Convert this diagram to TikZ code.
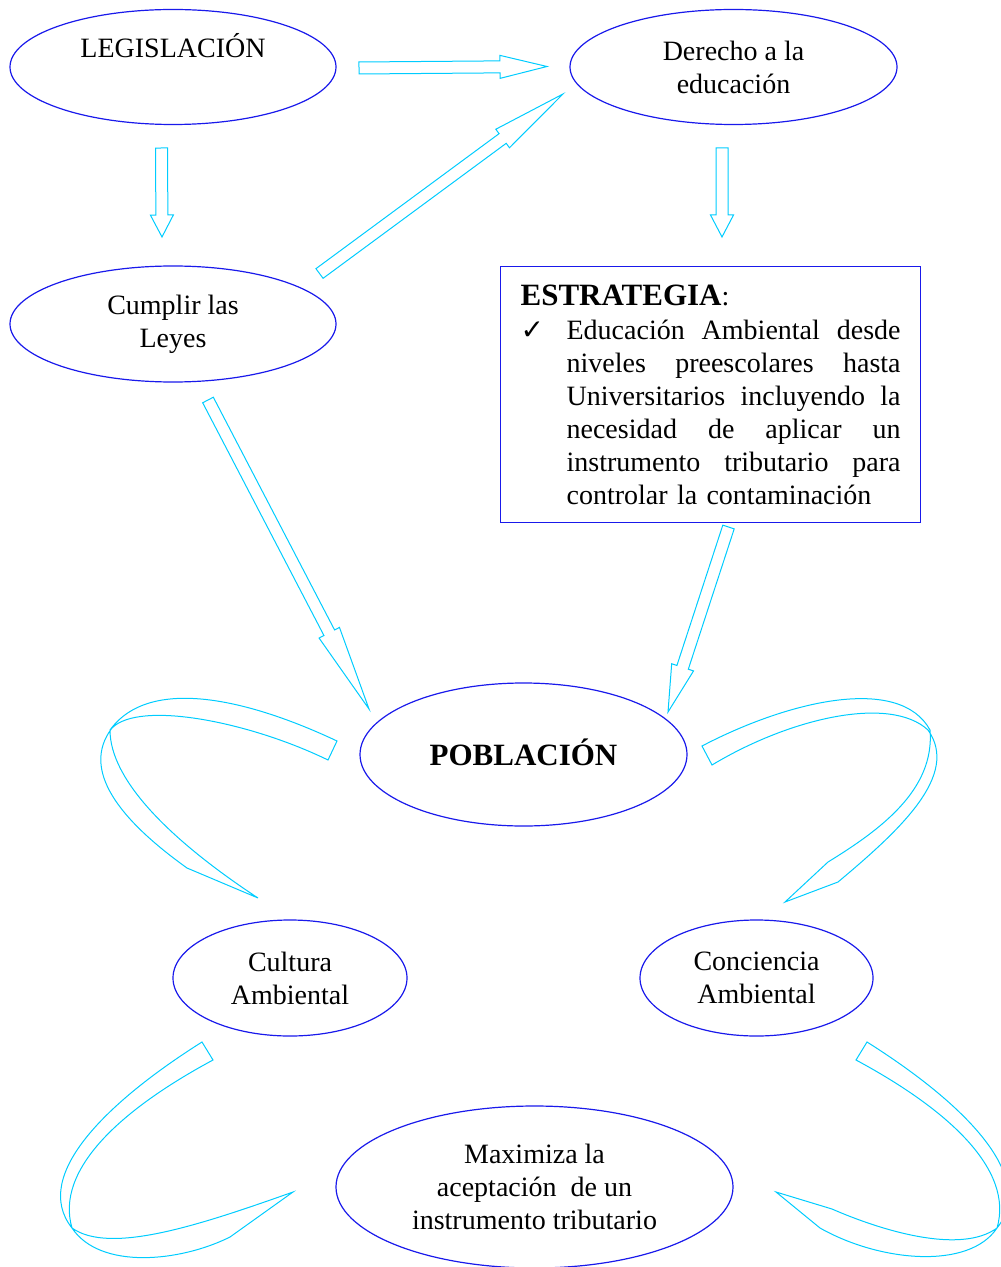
\documentclass[tikz,border=0pt]{standalone}
\usepackage{fontspec}
\setmainfont{Liberation Serif}
\newfontfamily\checkfont{DejaVu Sans}
\usepackage{tikz}
\usetikzlibrary{shapes.geometric,calc}

\definecolor{ovalblue}{RGB}{25,25,235}
\definecolor{arrowcyan}{RGB}{0,204,255}

\newcommand\boldtitle{\fontsize{15.5}{16.5}\selectfont\bfseries}
% one justified line of the strategy list
\newcommand\listline[1]{\leavevmode\hspace*{23pt}\hbox to 167pt{#1}}

% hollow block arrow: tail, tip, head length
\newcommand\hollowarrow[3]{%
  \coordinate (ha-s) at (#1);
  \coordinate (ha-e) at (#2);
  \coordinate (ha-b) at ($(ha-e)!#3!(ha-s)$);
  \draw[blockarrow] ($(ha-s)!3pt!90:(ha-e)$) -- ($(ha-b)!3pt!-90:(ha-s)$)
    -- ($(ha-b)!5.75pt!-90:(ha-s)$) -- (ha-e)
    -- ($(ha-b)!5.75pt!90:(ha-s)$) -- ($(ha-b)!3pt!90:(ha-s)$)
    -- ($(ha-s)!3pt!-90:(ha-e)$) -- cycle;
}

\begin{document}
\begin{tikzpicture}
        [x=0.5pt,y=-0.5pt,
         oval/.style={ellipse,draw=ovalblue,line width=0.6pt,inner sep=0pt,align=center,
           font=\fontsize{14}{16.5}\selectfont},
         stratbox/.style={draw=ovalblue,line width=0.6pt,text width=190pt,inner xsep=10pt,
           inner ysep=0pt,minimum height=128pt,font=\fontsize{14}{16.5}\selectfont},
         blockarrow/.style={draw=arrowcyan,line width=0.5pt,line join=miter}]
        \useasboundingbox (0,0) rectangle (1000,1267);

        \node[oval,minimum width=163pt,minimum height=57.5pt] (legislacion) at (173,67) {LEGISLACIÓN\\\strut};
        \node[oval,minimum width=163.5pt,minimum height=57.5pt] (derecho) at (733.5,67) {Derecho a la\\educación};
        \node[oval,minimum width=163pt,minimum height=58pt] (cumplir) at (173,324) {Cumplir las\\Leyes};
        \node[oval,minimum width=163.5pt,minimum height=71.5pt,text height=11pt,text depth=0pt]
          (poblacion) at (523.5,754.5) {\boldtitle POBLACIÓN};
        \node[oval,minimum width=117pt,minimum height=58pt] (cultura) at (290,978) {Cultura\\Ambiental};
        \node[oval,minimum width=116.5pt,minimum height=58pt] (conciencia) at (756.5,978) {Conciencia\\Ambiental};
        \node[oval,minimum width=198.5pt,minimum height=81pt] (maximiza) at (534.5,1187)
          {Maximiza la\\aceptación\ \ de un\\instrumento tributario};

        \node[stratbox,anchor=north west] (estrategia) at (500,266) {%
          {\boldtitle ESTRATEGIA}:\\[0.5pt]
          \leavevmode\hbox to 23pt{\checkfont\fontsize{14}{14}\selectfont ✓\hfil}\hbox to 167pt{Educación\hfill Ambiental\hfill desde}\\
          \listline{niveles\hfill preescolares\hfill hasta}\\
          \listline{Universitarios\hfill incluyendo\hfill la}\\
          \listline{necesidad\hfill de\hfill aplicar\hfill un}\\
          \listline{instrumento\hfill tributario\hfill para}\\
          \hspace*{23pt}controlar la contaminación};

        % ends of the straight arrows
        \coordinate (leg-r) at (359,68);    \coordinate (der-l) at (547,66.5);
        \coordinate (leg-d) at (161.5,148); \coordinate (cum-u) at (162,237);
        \coordinate (der-d) at (722,148);   \coordinate (est-u) at (722,237);
        \coordinate (cum-r) at (319.5,273.5); \coordinate (der-b) at (563,94);
        \coordinate (cum-d) at (208,400);   \coordinate (pob-l) at (369,709);
        \coordinate (est-d) at (728.5,527); \coordinate (pob-r) at (668,712);

        \foreach \from/\to/\head in {leg-r/der-l/23.5pt,leg-d/cum-u/11pt,der-d/est-u/11pt,
            cum-r/der-b/37.5pt,cum-d/pob-l/43pt,est-d/pob-r/23.5pt}
          \hollowarrow{\from}{\to}{\head};

        % curved arrows round the lower ovals
        \draw[blockarrow] (337,741) .. controls (250,700) and (150,675) .. (110,730)
          .. controls (110,780) and (170,840) .. (258,898) -- (187,868)
          .. controls (120,820) and (80,770) .. (112,728)
          .. controls (140,700) and (250,722) .. (328,760) -- cycle;
        \draw[blockarrow] (702,746) .. controls (790,700) and (900,675) .. (930,730)
          .. controls (935,790) and (880,830) .. (828,862) -- (785,902) -- (838,882)
          .. controls (900,830) and (960,775) .. (928,730)
          .. controls (890,695) and (790,718) .. (712,765) -- cycle;
        \draw[blockarrow] (202,1042) .. controls (110,1100) and (30,1175) .. (72,1228)
          .. controls (100,1270) and (180,1262) .. (230,1237) -- (293,1192)
          .. controls (200,1225) and (110,1255) .. (72,1228)
          .. controls (55,1170) and (120,1110) .. (213,1060) -- cycle;
        \draw[blockarrow] (867,1042) .. controls (959,1100) and (1039,1175) .. (997,1228)
          .. controls (969,1270) and (880,1262) .. (820,1228) -- (776,1192) -- (832,1209)
          .. controls (880,1230) and (960,1255) .. (997,1228)
          .. controls (1014,1170) and (949,1110) .. (856,1060) -- cycle;
    \end{tikzpicture}
\end{document}
